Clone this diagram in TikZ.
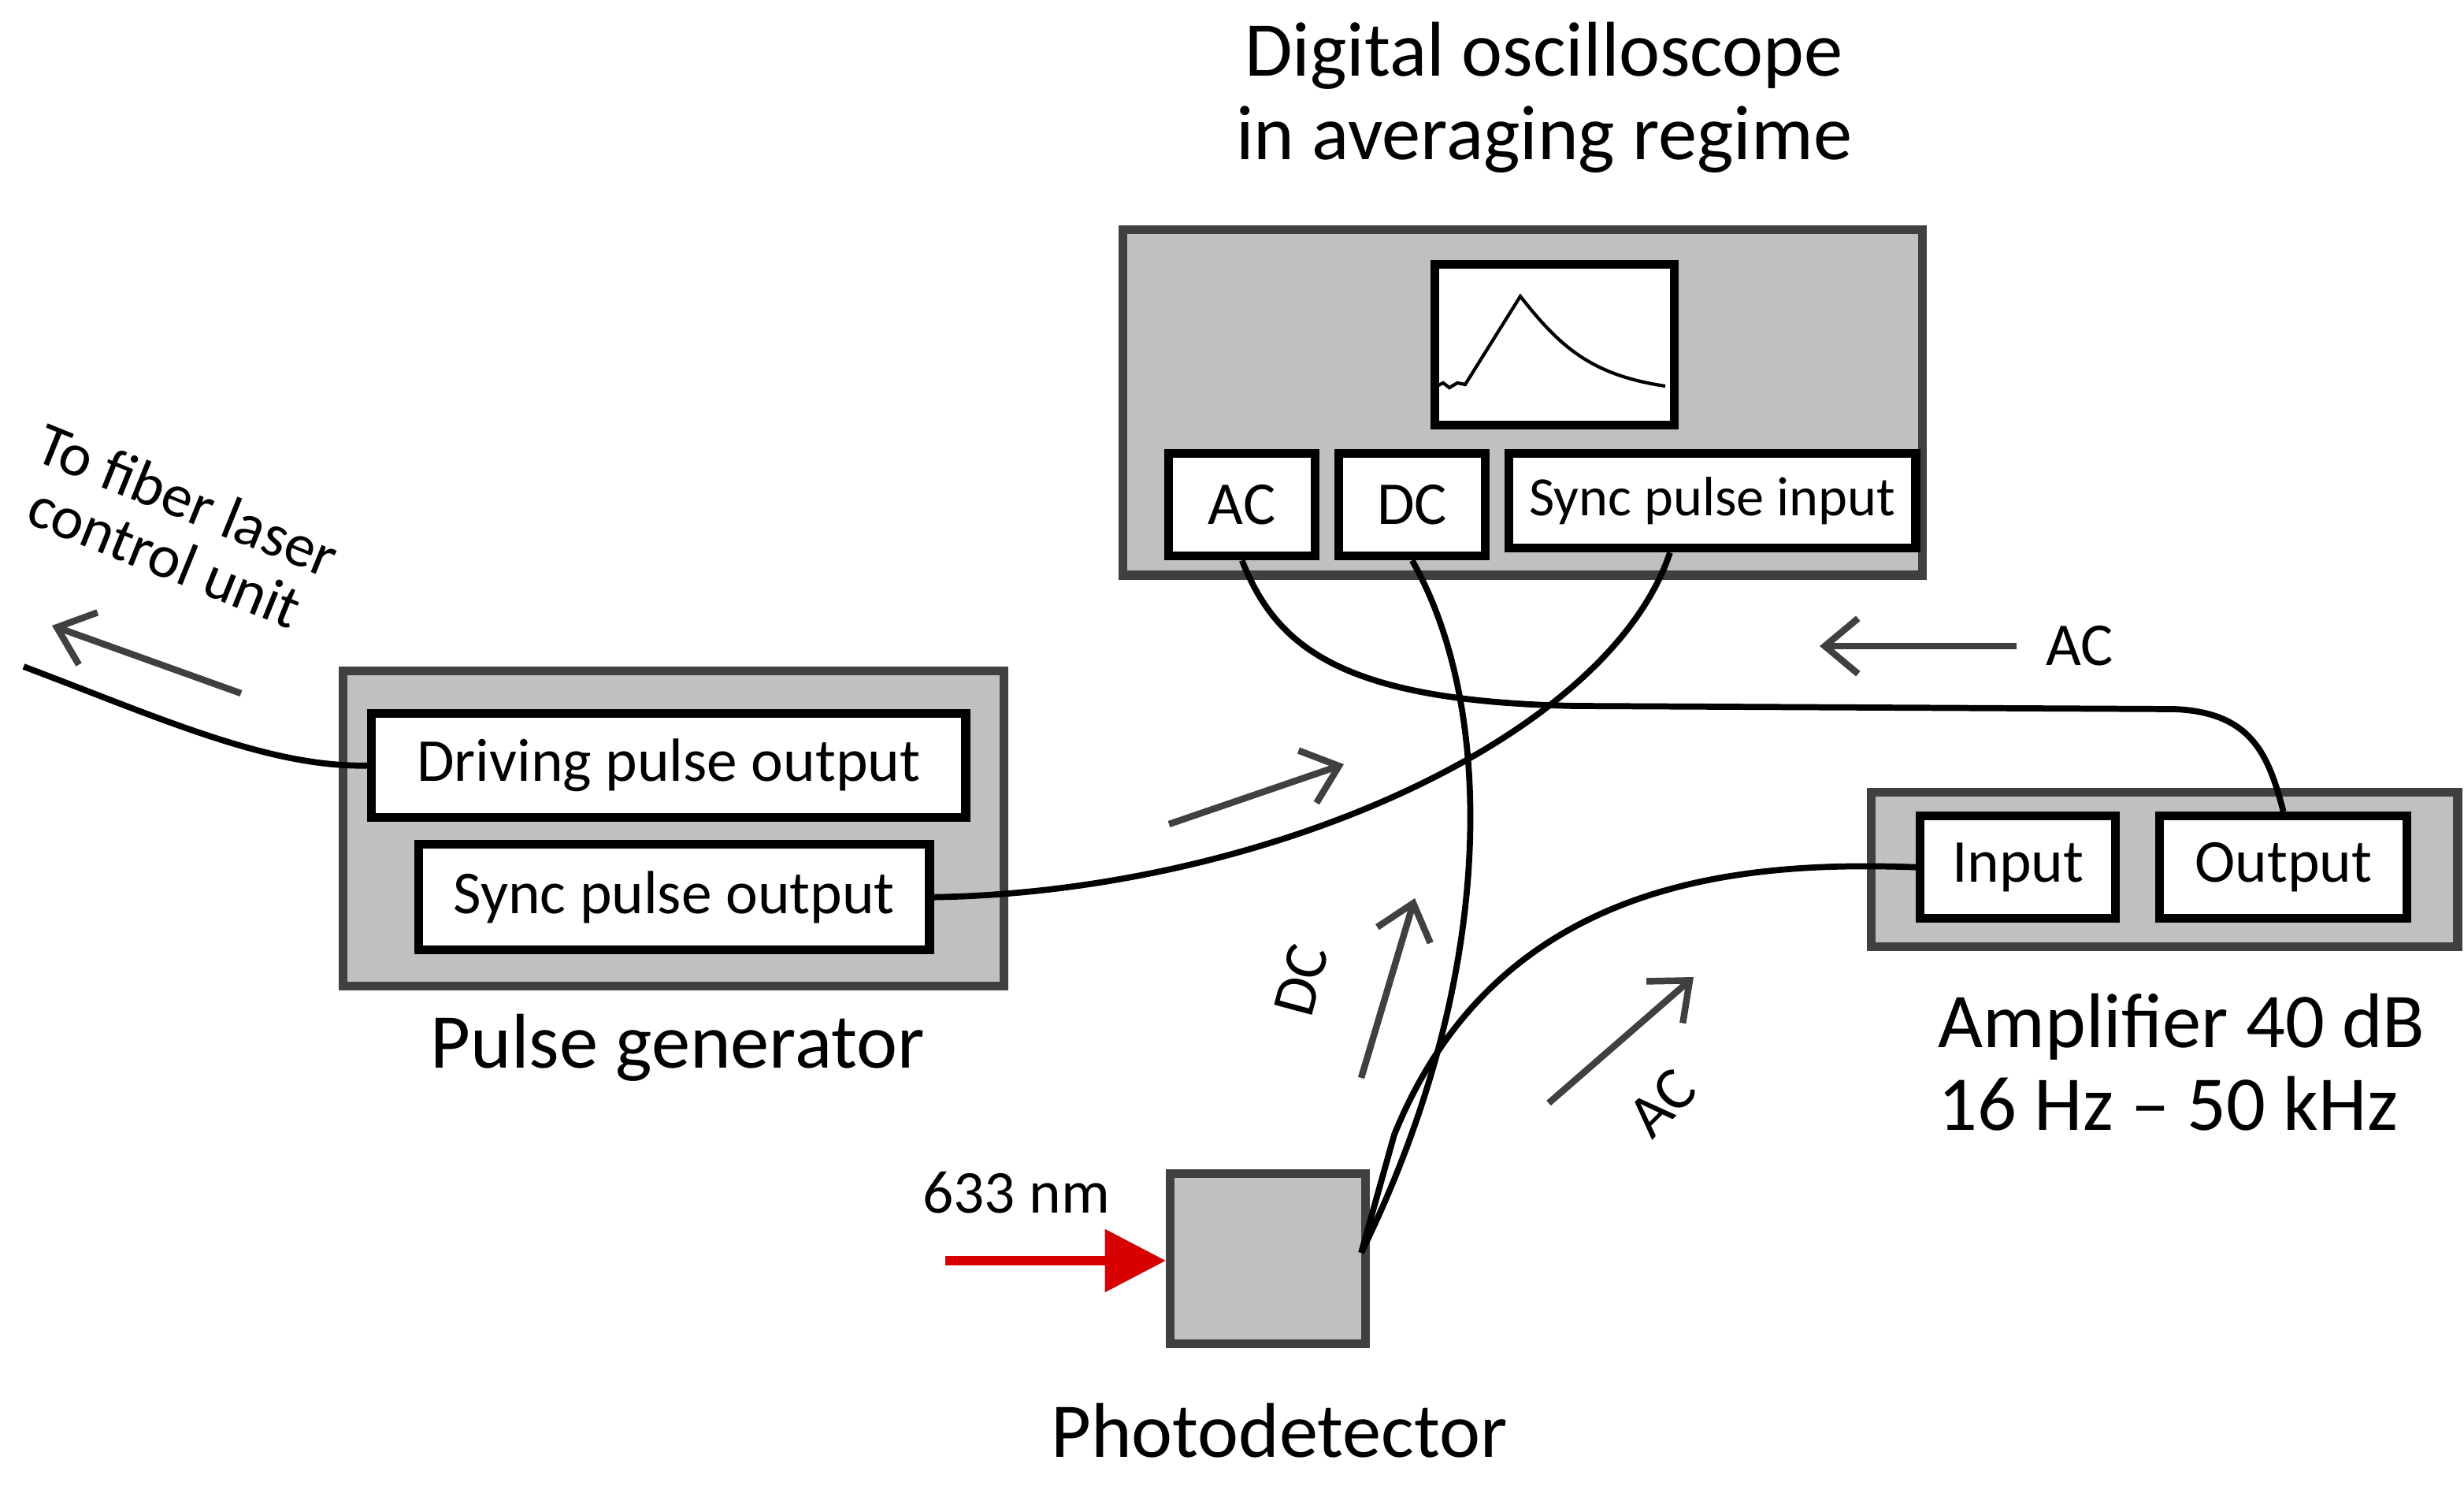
\documentclass[tikz,border=0pt]{standalone}
\usepackage{fontspec}
\setmainfont{Carlito}
\usetikzlibrary{arrows.meta}
\definecolor{boxgray}{RGB}{192,192,192}
\definecolor{edge}{RGB}{64,64,64}
\begin{document}
\begin{tikzpicture}[x=0.01cm,y=-0.01cm,
  dev/.style={draw=edge,line width=1.6pt,fill=boxgray,anchor=north west},
  port/.style={draw=black,line width=1.6pt,fill=white,inner sep=0pt,anchor=north west,font=\fontsize{11}{13}\selectfont},
  cable/.style={line width=1.1pt},
  flow/.style={draw=edge,line width=1.2pt,-{Straight Barb[length=6pt,width=10pt]}},
  lbl/.style={font=\fontsize{14}{17}\selectfont,align=left},
  small/.style={font=\fontsize{11}{13}\selectfont}]
\useasboundingbox (0,0) rectangle (1564,943);
% scope
\node[dev,minimum width=5.07cm,minimum height=2.19cm] (scope) at (710,143) {};
\node[port,minimum width=1.52cm,minimum height=1.02cm] (screen) at (908,165) {};
\draw[line width=0.6pt] (912,245) -- (916,243) -- (920,246) -- (925,243) -- (930,244) -- (965,188)
  .. controls (990,220) and (1010,238) .. (1057,245);
\node[port,minimum width=0.93cm,minimum height=0.65cm] (ac) at (739,285) {AC};
\node[port,minimum width=0.93cm,minimum height=0.65cm] (dc) at (847,285) {DC};
\node[port,minimum width=2.58cm,minimum height=0.6cm,font=\fontsize{10}{12}\selectfont] (sin) at (955,285) {Sync pulse input};
\node[lbl,align=center] (scopelbl) at (980,62) {Digital oscilloscope\\[-2pt]in averaging regime};
% pulse generator
\node[dev,minimum width=4.19cm,minimum height=2cm] (pg) at (215,423) {};
\node[port,minimum width=3.77cm,minimum height=0.66cm] (dpo) at (233,450) {Driving pulse output};
\node[port,minimum width=3.24cm,minimum height=0.67cm] (spo) at (263,533) {Sync pulse output};
\node[lbl] (pglbl) at (430,665) {Pulse generator};
% amplifier
\node[dev,minimum width=3.72cm,minimum height=0.98cm] (amp) at (1185,500) {};
\node[port,minimum width=1.24cm,minimum height=0.65cm] (in) at (1216,515) {Input};
\node[port,minimum width=1.57cm,minimum height=0.65cm] (out) at (1368,515) {Output};
\node[lbl,anchor=west] (amplbl) at (1218,674) {Amplifier 40 dB\\[-2pt]16 Hz -- 50 kHz};
% photodetector
\node[dev,minimum width=1.24cm,minimum height=1.08cm] (pd) at (740,742) {};
\node[lbl] (pdlbl) at (812,908) {Photodetector};
\coordinate (pdout) at (864,795);
\coordinate (laser) at (15,423);
\coordinate (redstart) at (600,800);
\node[small] (nm) at (645,757) {633 nm};
\draw[red!85!black,line width=1.6pt,-{Triangle[length=11pt,width=11pt]}] (redstart) -- (pd.west |- redstart);
% cables
\draw[cable] (laser) .. controls (100,455) and (170,487) .. (dpo.west);
\draw[cable] (spo.east) .. controls (800,566) and (1020,470) .. (sin.south -| 1060,345);
\draw[cable] (ac.south) .. controls (810,410) and (850,445) .. (1000,448)
  -- (1380,450) .. controls (1430,452) and (1440,480) .. (out.north);
\draw[cable] (dc.south) .. controls (950,450) and (950,620) .. (pdout);
\draw[cable] (in.west) .. controls (1100,546) and (950,560) .. (885,720) -- (pdout);
% flow arrows
\coordinate (a1s) at (153,440); \coordinate (a1e) at (33,397);
\coordinate (a2s) at (742,523); \coordinate (a2e) at (853,485);
\coordinate (a3s) at (864,684); \coordinate (a3e) at (898,570);
\coordinate (a4s) at (983,700); \coordinate (a4e) at (1075,620);
\coordinate (a5s) at (1280,410); \coordinate (a5e) at (1155,410);
\draw[flow] (a1s) -- (a1e);
\draw[flow] (a2s) -- (a2e);
\draw[flow] (a3s) -- (a3e);
\draw[flow] (a4s) -- (a4e);
\draw[flow] (a5s) -- (a5e);
\node[small,rotate=-22,align=center] (fib) at (112,335) {To fiber laser\\[-2pt]control unit};
\node[small] (acl1) at (1320,410) {AC};
\node[small,rotate=75] (dcl) at (826,622) {DC};
\node[small,rotate=45] (acl2) at (1055,700) {AC};
\end{tikzpicture}
\end{document}
